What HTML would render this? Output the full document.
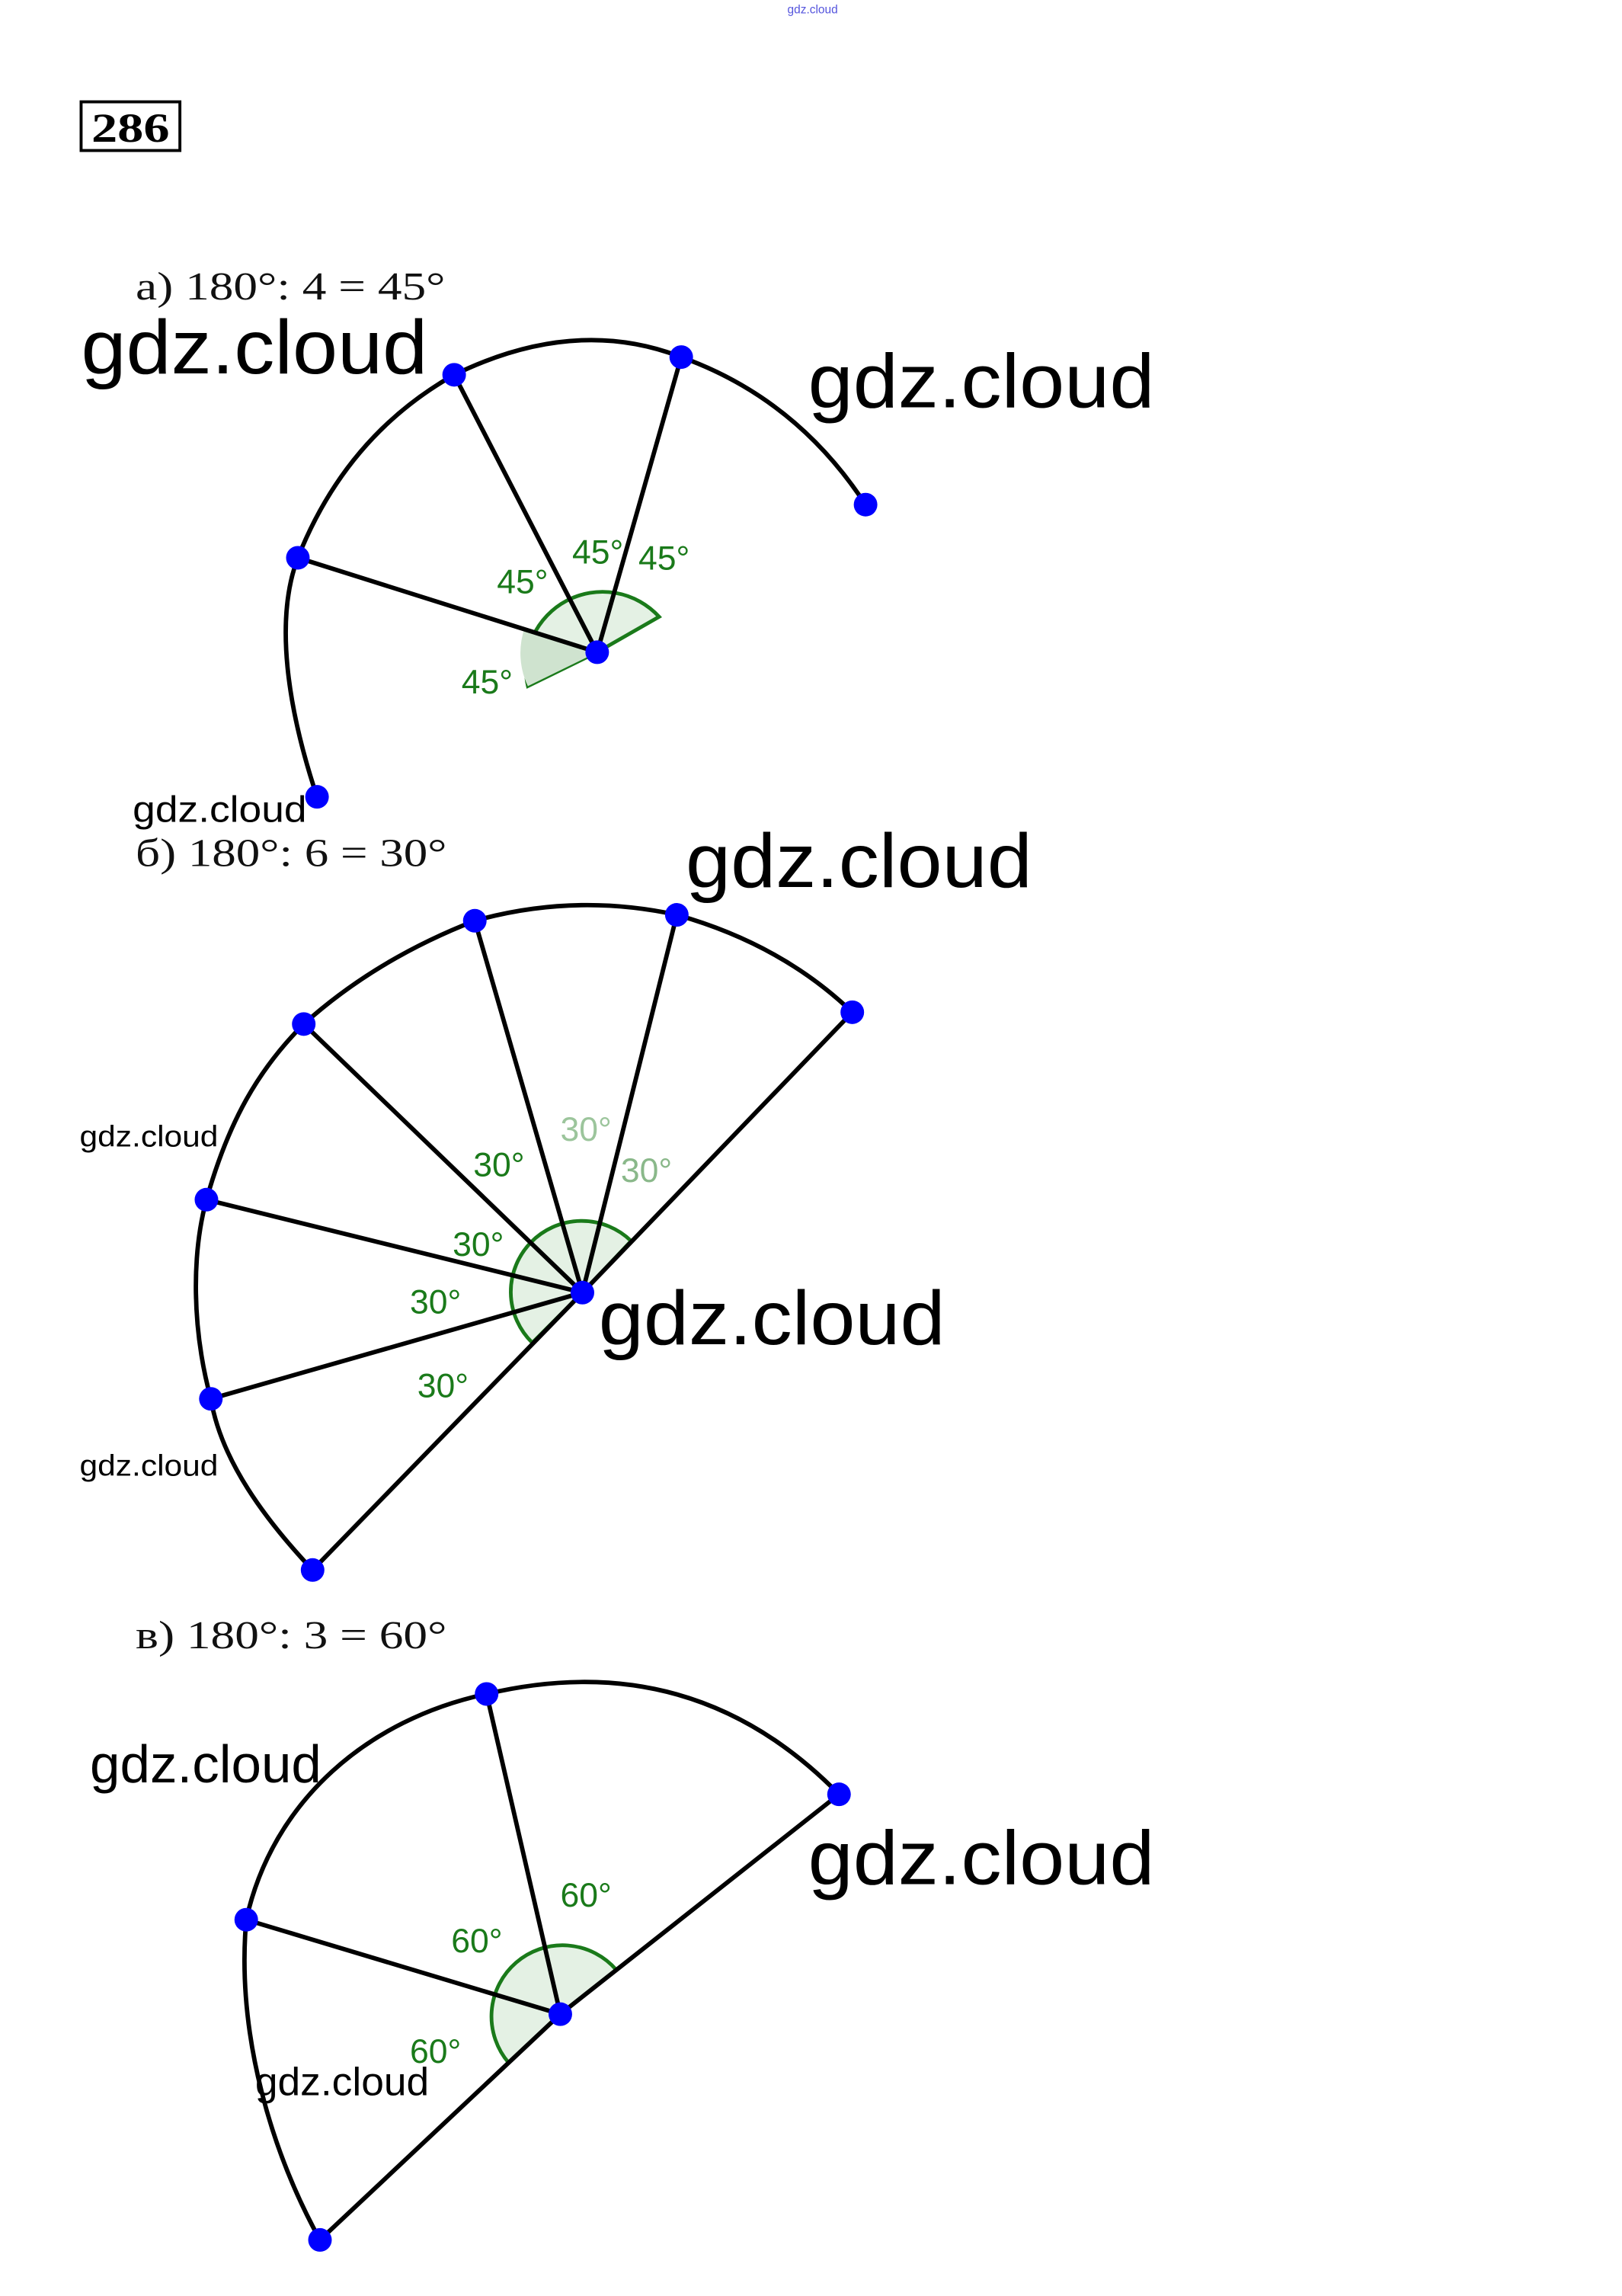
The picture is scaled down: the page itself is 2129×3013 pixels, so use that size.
<!DOCTYPE html>
<html><head><meta charset="utf-8"><style>html,body{margin:0;padding:0;background:#fff}svg{display:block}</style></head><body>
<svg width="2129" height="3013" viewBox="0 0 1100 1556" preserveAspectRatio="none" xmlns="http://www.w3.org/2000/svg">
<rect width="1100" height="1556" fill="#fff"/>
<text x="534" y="9" font-family="Liberation Sans, sans-serif" font-size="8" fill="#5555dd">gdz.cloud</text>
<rect x="55" y="69" width="67" height="33" fill="none" stroke="#000" stroke-width="2"/>
<text x="62" y="96" font-family="Liberation Serif, serif" font-weight="bold" font-size="28" textLength="53" lengthAdjust="spacingAndGlyphs">286</text>

<g font-family="Liberation Serif, serif" font-size="27" fill="#111">
<text x="92" y="203" textLength="210" lengthAdjust="spacingAndGlyphs">а) 180°: 4 = 45°</text>
<text x="92" y="587" textLength="211" lengthAdjust="spacingAndGlyphs">б) 180°: 6 = 30°</text>
<text x="92" y="1117" textLength="211" lengthAdjust="spacingAndGlyphs">в) 180°: 3 = 60°</text>
</g>

<!-- (a) -->
<g fill="none" stroke="#000" stroke-width="3">
<path d="M215,540 C195,480 186,420 202,378 C225,320 262,280 308,254 Q390,214 462,242 Q540,270 587,342"/>
</g>
<path d="M405,442 L358,465 A52,52 0 0 1 447,418 Z" fill="#e4f1e4" stroke="#1a7a1a" stroke-width="2.5"/>
<path d="M405,442 L358,465 A52,52 0 0 1 356,425 Z" fill="#cfe3cf"/>
<g stroke="#000" stroke-width="3">
<line x1="405" y1="442" x2="202" y2="378"/><line x1="405" y1="442" x2="308" y2="254"/><line x1="405" y1="442" x2="462" y2="242"/>
</g>
<g fill="#0000ff"><circle cx="308" cy="254" r="8"/><circle cx="462" cy="242" r="8"/><circle cx="587" cy="342" r="8"/><circle cx="202" cy="378" r="8"/><circle cx="215" cy="540" r="8"/><circle cx="405" cy="442" r="8"/></g>
<g font-family="Liberation Sans, sans-serif" font-size="23" fill="#1a7a1a">
<text x="337" y="402">45°</text><text x="388" y="382">45°</text><text x="433" y="386">45°</text><text x="313" y="470">45°</text>
</g>

<!-- (b) -->
<path d="M212,1064 C180,1030 150,990 143,948 C130,900 130,850 140,813 C155,760 175,725 206,694 Q255,650 322,624 Q390,605 459,620 Q530,640 578,686" fill="none" stroke="#000" stroke-width="3"/>
<path d="M395,876 L361,910 A48,48 0 0 1 428,841 Z" fill="#e4f1e4" stroke="#1a7a1a" stroke-width="2.5"/>
<g stroke="#000" stroke-width="3">
<line x1="395" y1="876" x2="212" y2="1064"/><line x1="395" y1="876" x2="143" y2="948"/><line x1="395" y1="876" x2="140" y2="813"/><line x1="395" y1="876" x2="206" y2="694"/><line x1="395" y1="876" x2="322" y2="624"/><line x1="395" y1="876" x2="459" y2="620"/><line x1="395" y1="876" x2="578" y2="686"/>
</g>
<g fill="#0000ff"><circle cx="206" cy="694" r="8"/><circle cx="322" cy="624" r="8"/><circle cx="459" cy="620" r="8"/><circle cx="578" cy="686" r="8"/><circle cx="140" cy="813" r="8"/><circle cx="143" cy="948" r="8"/><circle cx="212" cy="1064" r="8"/><circle cx="395" cy="876" r="8"/></g>
<g font-family="Liberation Sans, sans-serif" font-size="23" fill="#1a7a1a">
<text x="321" y="797">30°</text><text x="380" y="773" fill="#9cc59c">30°</text><text x="421" y="801" fill="#8ab88a">30°</text><text x="307" y="851">30°</text><text x="278" y="890">30°</text><text x="283" y="947">30°</text>
</g>

<!-- (c) -->
<path d="M217,1518 C185,1460 160,1380 167,1301 C185,1220 250,1165 330,1148 Q470,1115 569,1216" fill="none" stroke="#000" stroke-width="3"/>
<path d="M380,1365 L345,1398 A48,48 0 0 1 418,1335 Z" fill="#e4f1e4" stroke="#1a7a1a" stroke-width="2.5"/>
<g stroke="#000" stroke-width="3">
<line x1="380" y1="1365" x2="217" y2="1518"/><line x1="380" y1="1365" x2="167" y2="1301"/><line x1="380" y1="1365" x2="330" y2="1148"/><line x1="380" y1="1365" x2="569" y2="1216"/>
</g>
<g fill="#0000ff"><circle cx="330" cy="1148" r="8"/><circle cx="569" cy="1216" r="8"/><circle cx="167" cy="1301" r="8"/><circle cx="217" cy="1518" r="8"/><circle cx="380" cy="1365" r="8"/></g>
<g font-family="Liberation Sans, sans-serif" font-size="23" fill="#1a7a1a">
<text x="380" y="1292">60°</text><text x="306" y="1323">60°</text><text x="278" y="1398">60°</text>
</g>

<!-- watermarks -->
<g font-family="Liberation Sans, sans-serif" fill="#000">
<text x="55" y="253" font-size="52" textLength="235" lengthAdjust="spacingAndGlyphs">gdz.cloud</text>
<text x="548" y="276" font-size="52" textLength="235" lengthAdjust="spacingAndGlyphs">gdz.cloud</text>
<text x="90" y="557" font-size="25" textLength="118" lengthAdjust="spacingAndGlyphs">gdz.cloud</text>
<text x="465" y="601" font-size="52" textLength="235" lengthAdjust="spacingAndGlyphs">gdz.cloud</text>
<text x="54" y="777" font-size="20" textLength="94" lengthAdjust="spacingAndGlyphs">gdz.cloud</text>
<text x="406" y="911" font-size="52" textLength="235" lengthAdjust="spacingAndGlyphs">gdz.cloud</text>
<text x="54" y="1000" font-size="20" textLength="94" lengthAdjust="spacingAndGlyphs">gdz.cloud</text>
<text x="61" y="1208" font-size="36" textLength="157" lengthAdjust="spacingAndGlyphs">gdz.cloud</text>
<text x="548" y="1277" font-size="52" textLength="235" lengthAdjust="spacingAndGlyphs">gdz.cloud</text>
<text x="173" y="1420" font-size="27" textLength="118" lengthAdjust="spacingAndGlyphs">gdz.cloud</text>
</g>
</svg>
</body></html>
